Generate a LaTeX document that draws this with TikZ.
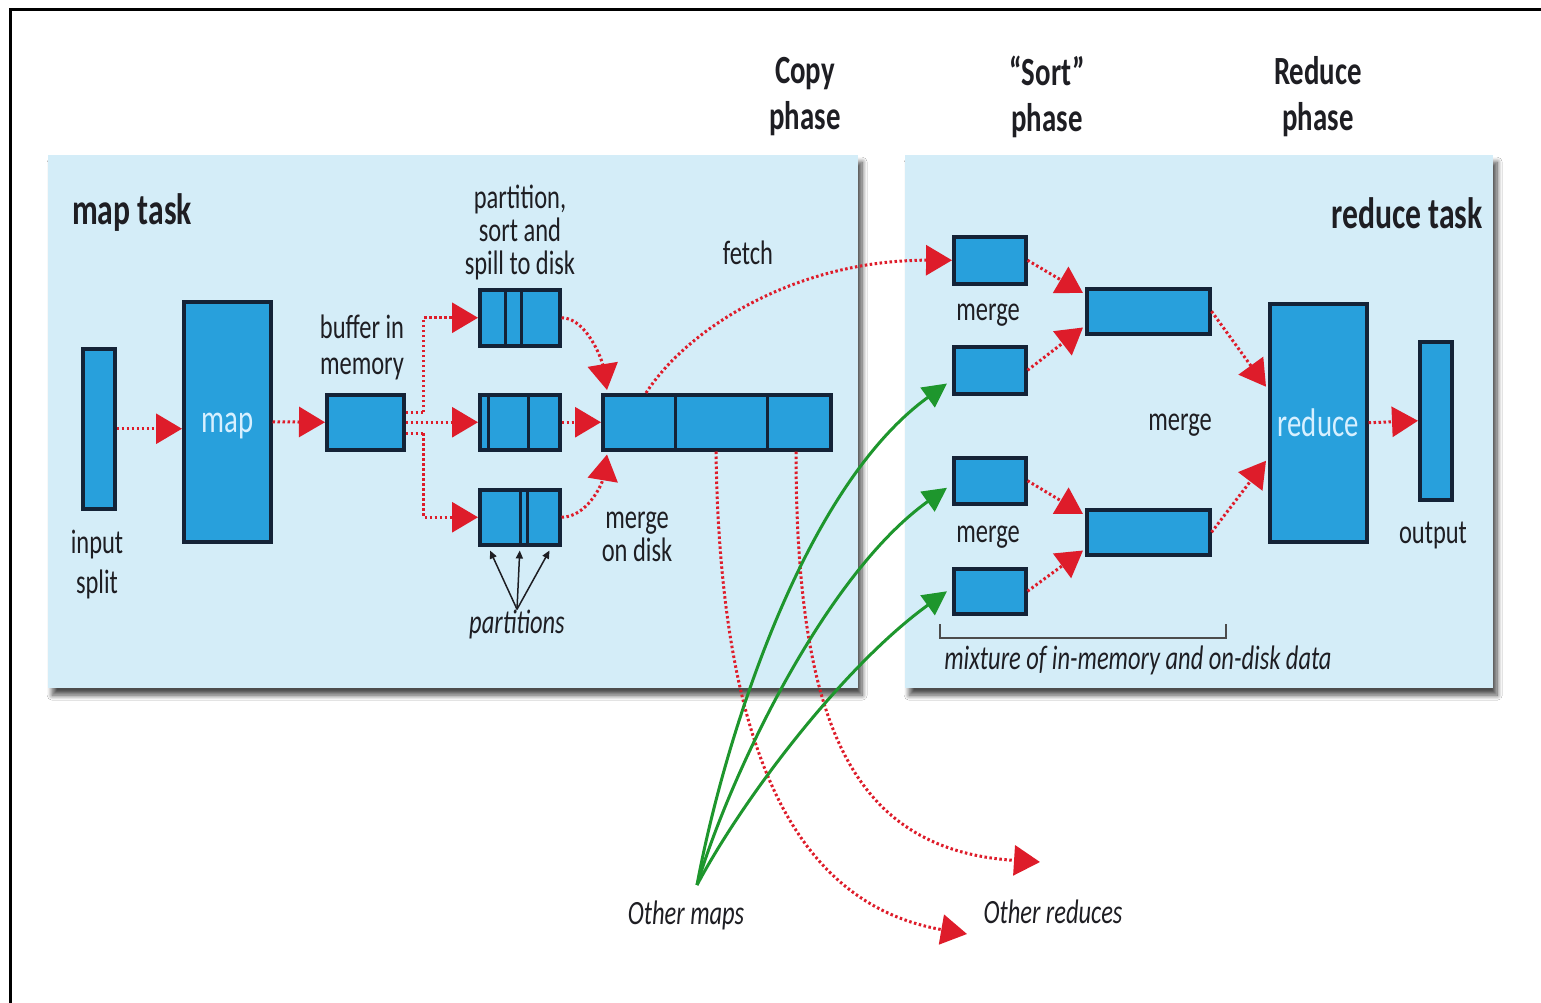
\documentclass[tikz,border=0pt]{standalone}
\usepackage{fontspec}
\setmainfont{Carlito}[FakeStretch=0.72]
\usetikzlibrary{arrows.meta,shadows,shadows.blur,calc}
\definecolor{panelc}{RGB}{212,237,248}
\definecolor{boxblue}{RGB}{40,160,220}
\definecolor{boxline}{RGB}{20,35,55}
\definecolor{redc}{RGB}{222,28,42}
\definecolor{greenc}{RGB}{30,150,45}
\definecolor{txt}{RGB}{30,30,35}
\definecolor{intxt}{RGB}{215,240,255}
\tikzset{
  panelbox/.style={fill=panelc, draw=none, inner sep=0pt, anchor=north west,
    blur shadow={shadow xshift=4pt, shadow yshift=-7pt, shadow blur radius=5pt, shadow blur steps=10, shadow opacity=70}},
  blk/.style={draw=boxline, fill=boxblue, line width=3.5pt, inner sep=0pt, anchor=north west},
  divl/.style={draw=boxline, line width=3pt},
  lbl/.style={font=\fontsize{34}{36}\selectfont, text=txt, align=center, inner sep=0pt},
  ilbl/.style={lbl, font=\fontsize{34}{36}\selectfont\itshape},
  hdr/.style={font=\fontsize{44}{46}\selectfont\bfseries, text=txt, align=center, inner sep=0pt},
  phs/.style={font=\fontsize{40}{46}\selectfont\bfseries, text=txt, align=center, inner sep=0pt},
  intext/.style={font=\fontsize{40}{42}\selectfont, text=intxt},
  rline/.style={draw=redc, line width=3pt, dash pattern=on 2.5pt off 2.5pt},
  rarrow/.style={rline, -{Triangle[length=26pt,width=30pt]}, redc},
  garrow/.style={draw=greenc, line width=3pt, -{Triangle[length=24pt,width=24pt]}, greenc},
  parr/.style={draw=txt, line width=1.5pt, -{Triangle[length=8pt,width=7pt]}},
}
\begin{document}
\begin{tikzpicture}[x=1pt,y=-1pt]
\useasboundingbox (0,0) rectangle (1541,1003);
\fill[white] (0,0) rectangle (1541,1003);
\draw[line width=3pt, black] (10,1003) -- (10,10) -- (1541,10);

% panels
\node[panelbox, minimum width=810pt, minimum height=533pt] (mpan) at (48,155) {};
\node[panelbox, minimum width=588pt, minimum height=533pt] (rpan) at (905,155) {};

% headers
\node[phs] (hcopy) at (805,97) {Copy\\phase};
\node[phs] (hsort) at (1047,97) {“Sort”\\phase};
\node[phs] (hred) at (1318,97) {Reduce\\phase};
\node[hdr, anchor=west] (mtask) at (72,213) {map task};
\node[hdr, anchor=east] (rtask) at (1483,213) {reduce task};

% map side boxes
\node[blk, minimum width=32pt, minimum height=160pt] (isplit) at (81,347) {};
\node[blk, minimum width=87pt, minimum height=240pt] (mapb) at (182,300) {};
\node[intext] (maptxt) at ($(mapb.center)+(0,4)$) {map};
\node[blk, minimum width=77pt, minimum height=55pt] (buf) at (325,393) {};
\node[blk, minimum width=80pt, minimum height=56pt] (p1) at (478,288) {};
\node[blk, minimum width=80pt, minimum height=55pt] (p2) at (478,393) {};
\node[blk, minimum width=80pt, minimum height=55pt] (p3) at (478,488) {};
\draw[divl] (505,288) -- (505,344);
\draw[divl] (521,288) -- (521,344);
\draw[divl] (488,393) -- (488,448);
\draw[divl] (528,393) -- (528,448);
\draw[divl] (520,488) -- (520,543);
\draw[divl] (527,488) -- (527,543);
\node[blk, minimum width=228pt, minimum height=55pt] (bar) at (601,393) {};
\draw[divl] (675,393) -- (675,448);
\draw[divl] (767,393) -- (767,448);

% map side labels
\node[lbl, font=\fontsize{34}{40}\selectfont] (lsplit) at (97,565) {input\\split};
\node[lbl] (lbuf) at (362,347) {buffer in\\memory};
\node[lbl, font=\fontsize{34}{33}\selectfont] (lpart) at (520,232) {partition,\\sort and\\spill to disk};
\node[lbl, font=\fontsize{34}{33}\selectfont] (lmod) at (637,537) {merge\\on disk};
\node[ilbl] (lparts) at (517,624) {partitions};
\node[lbl] (lfetch) at (748,253) {fetch};

% reduce side boxes
\node[blk, minimum width=72pt, minimum height=47pt] (r1) at (952,235) {};
\node[blk, minimum width=72pt, minimum height=47pt] (r2) at (952,345) {};
\node[blk, minimum width=72pt, minimum height=46pt] (r3) at (952,456) {};
\node[blk, minimum width=72pt, minimum height=45pt] (r4) at (952,567) {};
\node[blk, minimum width=123pt, minimum height=45pt] (m1) at (1085,287) {};
\node[blk, minimum width=123pt, minimum height=45pt] (m2) at (1085,508) {};
\node[blk, minimum width=97pt, minimum height=238pt] (redb) at (1268,302) {};
\node[intext] (redtxt) at (redb.center) {reduce};
\node[blk, minimum width=32pt, minimum height=158pt] (outb) at (1418,340) {};

% reduce side labels
\node[lbl] (lm1) at (988,315) {merge};
\node[lbl] (lm2) at (988,537) {merge};
\node[lbl] (lm3) at (1180,425) {merge};
\node[lbl] (lout) at (1433,535) {output};
\node[ilbl] (lmix) at (1138,660) {mixture of in-memory and on-disk data};
\draw[line width=1.5pt, black!70] (940,624) -- (940,638) -- (1226,638) -- (1226,624);

% bottom labels
\node[ilbl] (om) at (686,915) {Other maps};
\node[ilbl] (orx) at (1053,912) {Other reduces};
\coordinate (or1) at (1040,862);
\coordinate (or2) at (967,934);
\coordinate (gs) at (697,885);

% map side connectors
\draw[rarrow] (isplit.east) -- (isplit.east -| mapb.west);
\draw[rarrow] (mapb.east) -- (buf.west);
\draw[rline] ($(buf.east)+(0,-10)$) -- ++(18,0);
\draw[rline] ($(buf.east)+(0,11)$) -- ++(18,0);
\draw[rarrow] (buf.east) -- (p2.west);
\draw[rarrow] ($(buf.east)+(18,-10)$) |- (p1.west);
\draw[rarrow] ($(buf.east)+(18,11)$) |- (p3.west);
\draw[rarrow] (p1.east) .. controls +(25,0) and +(-5,-30) .. ($(bar.north west)+(6,-3)$);
\draw[rarrow] (p2.east) -- (bar.west);
\draw[rarrow] (p3.east) .. controls +(25,0) and +(-5,30) .. ($(bar.south west)+(6,3)$);
\draw[parr] (lparts.north) -- ($(p3.south west)+(12,4)$);
\draw[parr] (lparts.north) -- ($(p3.south)+(0,4)$);
\draw[parr] (lparts.north) -- ($(p3.south east)+(-12,4)$);

% fetch and other reduces
\draw[rarrow] ($(bar.north west)+(45,0)$) .. controls (690,325) and (800,260) .. (r1.west);
\draw[rarrow] ($(bar.south west)+(115,0)$) .. controls (720,760) and (800,905) .. (or2);
\draw[rarrow] ($(bar.south west)+(195,0)$) .. controls (796,720) and (850,850) .. (or1);

% other maps
\draw[garrow] (gs) .. controls (722,750) and (800,490) .. ($(r2.south west)+(-5,-12)$);
\draw[garrow] (gs) .. controls (730,775) and (825,575) .. ($(r3.west)+(-5,7)$);
\draw[garrow] (gs) .. controls (745,795) and (845,665) .. ($(r4.west)+(-5,0)$);

% reduce side connectors
\draw[rarrow] (r1.east) -- ($(m1.north west)+(-2,6)$);
\draw[rarrow] (r2.east) -- ($(m1.south west)+(-2,-8)$);
\draw[rarrow] (r3.east) -- ($(m2.north west)+(-2,6)$);
\draw[rarrow] (r4.east) -- ($(m2.south west)+(-2,-6)$);
\draw[rarrow] (m1.east) -- ($(redb.west)+(-2,-36)$);
\draw[rarrow] (m2.east) -- ($(redb.west)+(-2,38)$);
\draw[rarrow] (redb.east) -- (outb.west);
\end{tikzpicture}
\end{document}
